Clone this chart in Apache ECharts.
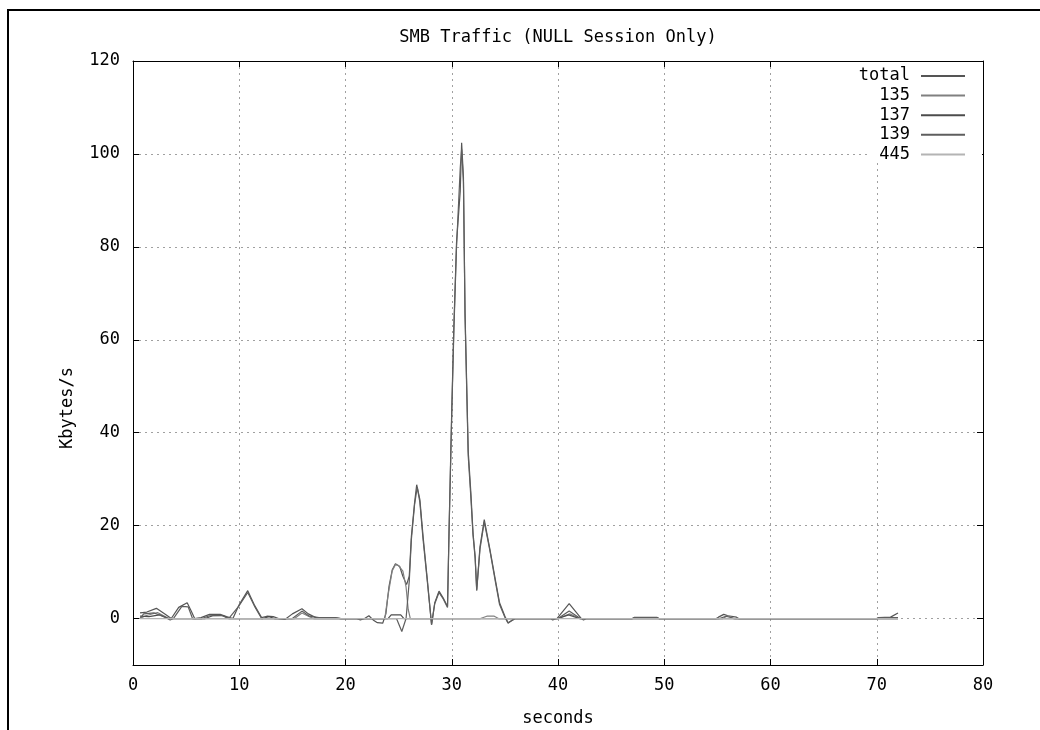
<!DOCTYPE html>
<html>
<head>
<meta charset="utf-8">
<script src="https://cdn.jsdelivr.net/npm/echarts@6/dist/echarts.min.js"></script>
<style>
  html, body { margin: 0; padding: 0; background: #fff; }
  #chart { width: 1040px; height: 730px; }
</style>
</head>
<body>
<div id="chart"></div>
<script>
// SMB traffic per port, Kbytes/s against seconds (NULL session only)
const xTicks = [0, 10, 20, 30, 40, 50, 60, 70, 80];
const yTicks = [0, 20, 40, 60, 80, 100, 120];

const totalSec = [0.66, 1.3, 2.2, 3.0, 3.6, 4.3, 5.1, 5.5, 5.8, 6.4, 7.2, 8.2, 8.8, 9.4, 10.0, 10.8, 11.4, 12.1, 12.6, 13.2, 13.7, 14.3, 15.0, 15.9, 16.5, 17.2, 19.0, 19.6, 21.0, 21.4, 21.8, 22.2, 22.6, 23.0, 23.5, 23.8, 24.1, 24.4, 24.7, 25.1, 25.4, 25.75, 26.0, 26.2, 26.5, 26.7, 27.0, 27.3, 27.7, 28.1, 28.4, 28.8, 29.2, 29.6, 29.75, 30.0, 30.2, 30.45, 30.8, 30.93, 31.1, 31.25, 31.4, 31.55, 31.8, 32.0, 32.2, 32.35, 32.66, 33.06, 33.6, 34.1, 34.5, 35.0, 35.3, 35.6, 35.95, 39.3, 39.5, 39.9, 41.05, 42.2, 42.4, 42.7, 47.0, 47.2, 49.3, 49.5, 54.9, 55.1, 55.6, 56.0, 56.8, 57.0, 70.0, 70.2, 71.3, 72.0];
const totalKB  = [1.2, 1.4, 2.2, 1.0, 0, 2.4, 3.4, 1.5, 0, 0.2, 0.9, 0.9, 0.4, 0, 3.0, 6.0, 3.0, 0.2, 0.5, 0.4, 0, -0.2, 1.0, 2.1, 1.0, 0.2, 0.2, 0, 0, -0.3, 0, 0.6, -0.3, -0.9, -1.0, 1.0, 7.0, 10.5, 11.8, 11.2, 9.1, 7.3, 9.1, 17.7, 24.9, 28.8, 25.6, 17.7, 8.4, -1.3, 3.4, 5.9, 4.4, 2.6, 19.6, 45, 63, 81, 92, 102.4, 95, 66, 51, 36, 27, 18.5, 13.4, 6.2, 15.5, 21.3, 14.8, 8.4, 3.4, 0.5, -0.9, -0.5, 0, 0, -0.3, 0, 3.2, 0, -0.3, 0, 0, 0.25, 0.25, 0, 0, 0.3, 0.9, 0.6, 0.3, 0, 0, 0.2, 0.3, 1.2];

const p135Sec = [0.66, 1.2, 2.3, 3.2, 3.6, 15.2, 15.9, 16.6, 17.0, 23.7, 24.0, 24.4, 24.7, 25.0, 25.4, 25.7, 25.9, 26.1, 32.7, 33.3, 34.0, 34.4, 40.0, 41.1, 42.1, 55.5, 56.0, 56.5, 72.0];
const p135KB  = [0, 0.6, 1.3, 0.2, 0, 0, 1.2, 0.4, 0, 0, 5.0, 10.3, 11.6, 11.4, 10.2, 6.8, 2.0, 0, 0, 0.5, 0.5, 0, 0, 1.0, 0, 0, 0.6, 0, 0];

const p137Sec = [0.66, 1.5, 2.5, 3.3, 6.8, 7.5, 8.5, 9.0, 12.2, 12.8, 13.3, 24.0, 24.3, 25.2, 25.5, 40.0, 41.0, 42.0, 72.0];
const p137KB  = [0.5, 0.4, 0.8, 0, 0, 0.6, 0.6, 0, 0, 0.4, 0, 0, 0.8, 0.8, 0, 0, 0.8, 0, 0];

const p139Sec = [0.66, 1.0, 2.0, 3.0, 3.5, 3.8, 4.6, 5.2, 5.6, 6.5, 7.2, 8.3, 9.0, 10.0, 10.8, 11.5, 12.1, 15.0, 15.9, 16.6, 17.5, 19.0, 19.5, 24.8, 25.3, 25.7, 26.0, 26.2, 26.5, 26.75, 27.0, 27.3, 27.7, 28.1, 28.4, 28.8, 29.2, 29.6, 29.75, 30.0, 30.2, 30.45, 30.8, 30.93, 31.1, 31.25, 31.4, 31.55, 31.8, 32.0, 32.2, 32.35, 32.66, 33.06, 33.6, 34.1, 34.5, 35.0, 35.3, 35.6, 36.0, 40.0, 41.05, 42.1, 47.0, 47.2, 49.3, 49.5, 55.2, 55.8, 56.6, 70.0, 70.2, 72.0];
const p139KB  = [0, 1.0, 1.2, 0.3, -0.3, 0, 2.6, 2.5, 0, 0, 0.6, 0.7, 0, 2.8, 5.6, 2.4, 0, 0, 1.6, 0.5, 0.2, 0.2, 0, 0, -2.8, 0, 8.0, 17.0, 24.5, 28.3, 25.0, 17.0, 8.0, -1.3, 3.2, 5.6, 4.2, 2.4, 19.0, 44, 62, 80, 97, 101, 94, 65, 50, 35, 26, 18, 13, 6.0, 15, 20.8, 14.5, 8.0, 3.0, 0.3, -1.0, -0.5, 0, 0, 1.6, 0, 0, 0.2, 0.2, 0, 0, 0.5, 0, 0, 0.2, 0.2];

const p445Sec = [0.66, 72.0];
const p445KB  = [0, 0];

const seriesNames = ['total', '135', '137', '139', '445'];
const seriesColors = ['#555555', '#808080', '#4c4c4c', '#5e5e5e', '#b4b4b4'];

function pairs(sec, kb) { return sec.map((t, i) => [t, kb[i]]); }
const seriesData = [
  pairs(totalSec, totalKB),
  pairs(p135Sec, p135KB),
  pairs(p137Sec, p137KB),
  pairs(p139Sec, p139KB),
  pairs(p445Sec, p445KB)
];

const mono = 'DejaVu Sans Mono';
const fs = 17;
const chart = echarts.init(document.getElementById('chart'), null, { renderer: 'canvas' });

const gridLine = { show: true, lineStyle: { color: '#a0a0a0', type: [2, 4], width: 1 } };
const frameLine = { show: true, onZero: false, lineStyle: { color: '#000', width: 1 } };

chart.setOption({
  backgroundColor: '#ffffff',
  animation: false,
  title: {
    text: 'SMB Traffic (NULL Session Only)',
    left: 553, top: 24, textAlign: 'center',
    textStyle: { fontFamily: mono, fontSize: fs, fontWeight: 'normal', color: '#000' }
  },
  legend: {
    orient: 'vertical',
    right: 74, top: 67.5, padding: 0,
    align: 'right',
    itemWidth: 44, itemHeight: 17, itemGap: 2.6,
    data: seriesNames,
    itemStyle: { opacity: 0 },
    textStyle: { fontFamily: mono, fontSize: fs, color: '#000', width: 52, align: 'right', lineHeight: 17, padding: [0, 6, 0, 0] },
    z: 6
  },
  grid: { left: 133, right: 57, top: 61, bottom: 65, outerBoundsMode: 'none', containLabel: false },
  xAxis: [{
    type: 'value', min: 0, max: 80, interval: 10,
    name: 'seconds', nameLocation: 'middle', nameGap: 45,
    nameTextStyle: { fontFamily: mono, fontSize: fs, color: '#000' },
    axisLine: frameLine,
    axisTick: { show: true, inside: true, length: 6, lineStyle: { color: '#000' } },
    axisLabel: { fontFamily: mono, fontSize: fs, color: '#000', margin: 12 },
    splitLine: gridLine
  }, {
    type: 'value', position: 'top', min: 0, max: 80, interval: 10,
    axisLine: frameLine,
    axisTick: { show: true, inside: true, length: 6, lineStyle: { color: '#000' } },
    axisLabel: { show: false },
    splitLine: { show: false }
  }],
  yAxis: [{
    type: 'value', min: -10, max: 120,
    name: 'Kbytes/s', nameLocation: 'middle', nameGap: 57,
    nameTextStyle: { fontFamily: mono, fontSize: fs, color: '#000', padding: [0, 90, 0, 0] },
    axisLine: frameLine,
    axisTick: { show: true, inside: false, length: -6, lineStyle: { color: '#000' }, customValues: yTicks },
    axisLabel: { fontFamily: mono, fontSize: fs, color: '#000', margin: 13, customValues: yTicks },
    splitLine: gridLine
  }, {
    type: 'value', position: 'right', min: -10, max: 120,
    axisLine: frameLine,
    axisTick: { show: true, inside: false, length: -6, lineStyle: { color: '#000' }, customValues: yTicks },
    axisLabel: { show: false, customValues: yTicks },
    splitLine: { show: false }
  }],
  graphic: [
    { type: 'polyline', shape: { points: [[8, 730], [8, 10], [1040, 10]] }, style: { fill: 'none', stroke: '#000', lineWidth: 2 }, z: 0 },
    { type: 'rect', shape: { x: 868, y: 62, width: 114, height: 101 }, style: { fill: '#fff' }, z: 1 }
  ],
  series: seriesNames.map((name, i) => ({
    name: name,
    type: 'line',
    xAxisIndex: 0, yAxisIndex: 0,
    data: seriesData[i],
    symbol: 'none',
    smooth: false,
    color: seriesColors[i],
    lineStyle: { color: seriesColors[i], width: 1.2 },
    z: 2 + i
  }))
});
</script>
</body>
</html>
